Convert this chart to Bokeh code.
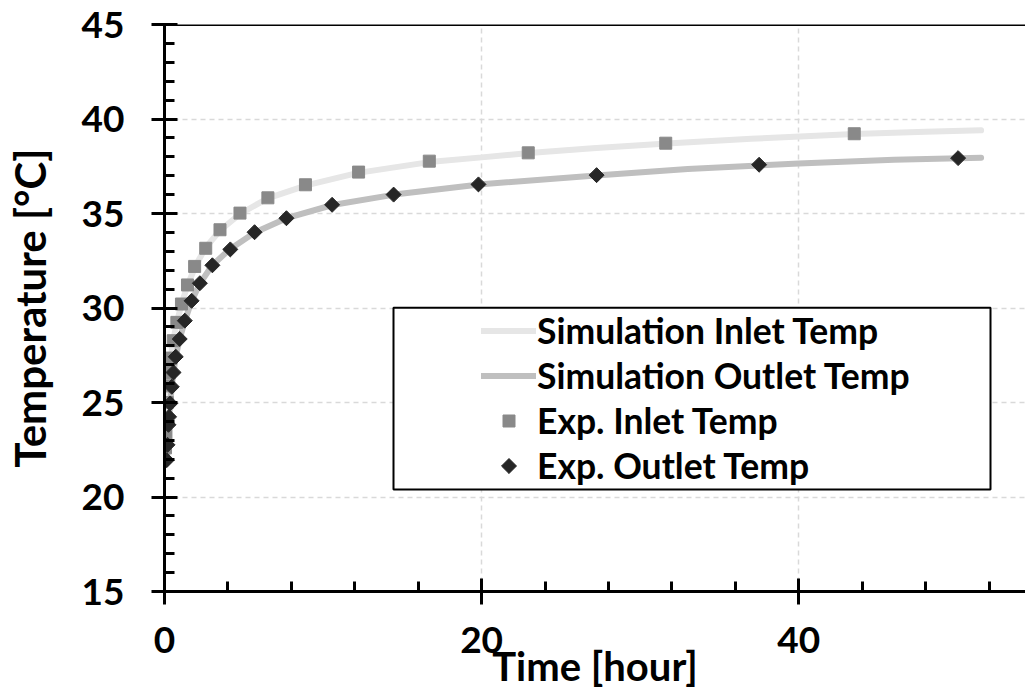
import math
from bokeh.plotting import figure
from bokeh.models import (SingleIntervalTicker, Span, BoxAnnotation, Legend, LegendItem, Range1d)
from bokeh.embed import file_html
from bokeh.resources import INLINE

# ---- data ----
sim_inlet_t = [0, 0.05, 0.1, 0.15, 0.2, 0.3, 0.4, 0.55, 0.8, 1.1, 1.5, 2.0, 2.6, 3.5, 4.8,
               6.5, 9.0, 12.2, 16.7, 20, 23, 27, 31.7, 37, 43.5, 48, 51.5]
sim_inlet_T = [22.3, 22.9, 23.6, 24.4, 25.2, 26.6, 27.4, 28.3, 29.3, 30.3, 31.3, 32.3, 33.2, 34.1, 35.0,
               35.8, 36.5, 37.15, 37.72, 37.97, 38.2, 38.45, 38.7, 38.95, 39.2, 39.32, 39.4]

sim_outlet_t = [0, 0.14, 0.2, 0.3, 0.45, 0.7, 1.0, 1.3, 1.7, 2.2, 3.0, 4.1, 5.7, 7.7, 10.6,
                14.5, 20, 27, 33, 40, 46, 51.5]
sim_outlet_T = [21.8, 22.0, 22.9, 24.3, 25.8, 27.4, 28.5, 29.35, 30.35, 31.25, 32.25, 33.1, 34.0, 34.75, 35.45,
                36.0, 36.55, 37.0, 37.35, 37.65, 37.85, 37.95]

exp_inlet_t = [0.065, 0.09, 0.12, 0.17, 0.23, 0.29, 0.4, 0.55, 0.78, 1.07, 1.45, 1.9, 2.6, 3.5, 4.76,
               6.52, 8.89, 12.24, 16.7, 22.94, 31.61, 43.5]
exp_inlet_T = [22.6, 23.3, 24.1, 25.0, 25.88, 26.59, 27.35, 28.27, 29.24, 30.21, 31.22, 32.2, 33.16, 34.14, 35.02,
               35.83, 36.52, 37.19, 37.77, 38.21, 38.72, 39.22]

exp_outlet_t = [0.14, 0.19, 0.25, 0.29, 0.36, 0.46, 0.57, 0.71, 0.96, 1.28, 1.71, 2.23, 3.02, 4.15,
                5.68, 7.69, 10.57, 14.45, 19.8, 27.25, 37.5, 50.05]
exp_outlet_T = [21.95, 22.76, 23.82, 24.24, 24.95, 25.83, 26.59, 27.42, 28.36, 29.33, 30.38, 31.31, 32.26, 33.1,
                34.01, 34.75, 35.46, 36.0, 36.54, 37.03, 37.58, 37.93]

labels = ["Simulation Inlet Temp", "Simulation Outlet Temp", "Exp. Inlet Temp", "Exp. Outlet Temp"]

FONT = "Lato"

# layout constants (pixels)
W, H = 1025, 696
BL, BR, BT, BB = 164, 0, 24, 105
X0, X1, Y0, Y1 = 0, 54.3, 15, 45
LEG_X, LEG_Y = 317, 103          # legend bottom-left offset from frame bottom-left
ROW_H, GLYPH_W = 45, 55

p = figure(width=W, height=H, output_backend="svg", toolbar_location=None,
           x_range=Range1d(X0, X1), y_range=Range1d(Y0, Y1),
           min_border_left=BL, min_border_right=BR, min_border_top=BT, min_border_bottom=BB)
p.outline_line_color = None
p.background_fill_color = "white"
p.border_fill_color = "white"

# pixel -> data helpers (frame coordinates)
fw, fh = W - BL - BR, H - BT - BB
def px_to_x(px):
    return X0 + px / fw * (X1 - X0)
def py_to_y(py):
    return Y0 + py / fh * (Y1 - Y0)

# axes
p.xaxis.ticker = SingleIntervalTicker(interval=20, num_minor_ticks=5)
p.yaxis.ticker = SingleIntervalTicker(interval=5, num_minor_ticks=5)
for ax in (p.xaxis[0], p.yaxis[0]):
    ax.axis_line_width = 3
    ax.axis_line_color = "black"
    ax.major_tick_line_width = 3
    ax.minor_tick_line_width = 3
    ax.major_tick_in = 13
    ax.major_tick_out = 13
    ax.minor_tick_in = 10
    ax.minor_tick_out = 0
    ax.major_label_text_font = FONT
    ax.major_label_text_font_style = "bold"
    ax.major_label_text_font_size = "37px"
    ax.major_label_text_color = "black"
    ax.axis_label_text_font = FONT
    ax.axis_label_text_font_style = "bold"
    ax.axis_label_text_color = "black"

p.xaxis.axis_label_text_font_size = "40px"
p.yaxis.axis_label_text_font_size = "42px"
p.xaxis.axis_label = "Time [hour]"
p.yaxis.axis_label = "Temperature [°C]"
p.xaxis.major_label_standoff = 22
p.yaxis.major_label_standoff = 27
p.xaxis.axis_label_standoff = -14
p.yaxis.axis_label_standoff = 24

# grid
for g in (p.xgrid[0], p.ygrid[0]):
    g.grid_line_color = "#d9d9d9"
    g.grid_line_dash = "5 4"
    g.grid_line_width = 1.5

# top border
p.add_layout(Span(location=Y1, dimension="width", line_color="black", line_width=3))

# series
r1 = p.line(sim_inlet_t, sim_inlet_T, line_color="#e6e6e6", line_width=6, line_cap="round")
r2 = p.line(sim_outlet_t, sim_outlet_T, line_color="#bfbfbf", line_width=6, line_cap="round")
r3 = p.scatter(exp_inlet_t, exp_inlet_T, marker="square", size=12, fill_color="#898989", line_color="#898989")
r4 = p.scatter(exp_outlet_t, exp_outlet_T, marker="square", angle=math.pi / 4, size=10.6,
               fill_color="#262626", line_color="#262626")

# legend frame
p.add_layout(BoxAnnotation(left=px_to_x(229), right=px_to_x(826), bottom=py_to_y(102), top=py_to_y(283.7),
                           fill_color="white", fill_alpha=1, line_color="black", line_width=2,
                           line_alpha=1))

# invisible stand-ins for marker entries (swatches drawn separately, so their size/angle match)
d3 = p.scatter([], [], marker="square", size=1, alpha=0)
d4 = p.scatter([], [], marker="square", size=1, alpha=0)

legend = Legend(items=[LegendItem(label=labels[0], renderers=[r1]),
                       LegendItem(label=labels[1], renderers=[r2]),
                       LegendItem(label=labels[2], renderers=[d3]),
                       LegendItem(label=labels[3], renderers=[d4])],
                location=(LEG_X, LEG_Y), orientation="vertical")
legend.border_line_color = None
legend.background_fill_alpha = 0
legend.padding = 0
legend.spacing = 0
legend.margin = 0
legend.label_height = ROW_H
legend.glyph_height = ROW_H
legend.glyph_width = GLYPH_W
legend.label_standoff = 1
legend.label_text_font = FONT
legend.label_text_font_style = "bold"
legend.label_text_font_size = "35.5px"
legend.label_text_color = "black"
p.add_layout(legend)

# legend swatches for the marker entries
sw_x = px_to_x(LEG_X + GLYPH_W / 2)
p.scatter([sw_x], [py_to_y(LEG_Y + 1.5 * ROW_H)], marker="square", size=12,
          fill_color="#898989", line_color="#898989", level="overlay")
p.scatter([sw_x], [py_to_y(LEG_Y + 0.5 * ROW_H)], marker="square", angle=math.pi / 4, size=10.6,
          fill_color="#262626", line_color="#262626", level="overlay")

open("out.html", "w").write(file_html(p, INLINE))
